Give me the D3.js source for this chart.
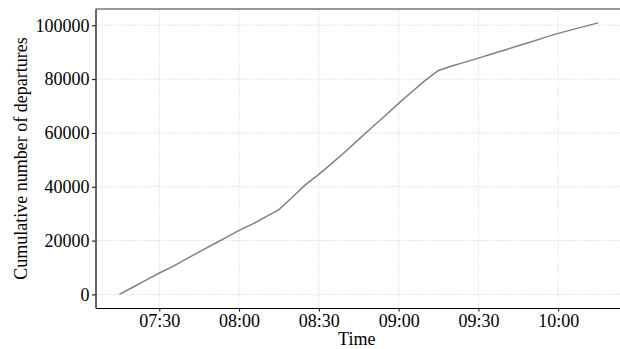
<!DOCTYPE html>
<html><head><meta charset="utf-8">
<script src="https://cdn.jsdelivr.net/npm/d3@7"></script>
<style>
body{margin:0;background:#fff;}
svg text{font-family:'Liberation Serif','Times New Roman',Times,'DejaVu Serif',serif !important;}
</style></head>
<body><svg id="c" width="620" height="349"></svg>
<script>
const times = ["07:15","07:20","07:25","07:30","07:35","07:40","07:45","07:50","07:55","08:00",
  "08:05","08:10","08:15","08:20","08:25","08:30","08:35","08:40","08:45","08:50","08:55","09:00",
  "09:05","09:10","09:15","09:20","09:25","09:30","09:35","09:40","09:45","09:50","09:55","10:00",
  "10:05","10:10","10:15"];
const departures = [0,2650,5300,7950,10350,13100,15800,18450,21100,23800,
  26100,28800,31500,36100,40800,44600,48800,53100,57600,62100,66500,71000,
  75300,79500,83200,84900,86300,87800,89300,90800,92400,93900,95500,97000,
  98300,99600,100900];
const xTickLabels = ["07:30","08:00","08:30","09:00","09:30","10:00"];
const yTickValues = [0,20000,40000,60000,80000,100000];

const parse = s => { const [h,m]=s.split(":").map(Number); return new Date(Date.UTC(2020,0,1,h,m)); };
const data = times.map((t,i)=>({t:parse(t), v:departures[i]}));

const svg = d3.select("#c");
const L=95.5, R=622, T=9, B=308;
const x = d3.scaleUtc().domain([parse("07:06"), parse("10:24")]).range([L,R]);
const y = d3.scaleLinear().domain([-5050,106050]).range([B,T]);
const FONT = "'Liberation Serif','Times New Roman',Times,serif";

const g = svg.append("g");
// grid
g.selectAll(".gx").data(xTickLabels).enter().append("line")
  .attr("x1",d=>x(parse(d))).attr("x2",d=>x(parse(d))).attr("y1",T).attr("y2",B)
  .attr("stroke","#cfcfcf").attr("stroke-width",0.8).attr("stroke-dasharray","1,1.2");
g.selectAll(".gy").data(yTickValues).enter().append("line")
  .attr("x1",L).attr("x2",R).attr("y1",d=>y(d)).attr("y2",d=>y(d))
  .attr("stroke","#cfcfcf").attr("stroke-width",0.8).attr("stroke-dasharray","1,1.2");

// line
const line = d3.line().x(d=>x(d.t)).y(d=>y(d.v));
g.append("path").datum(data).attr("d",line).attr("fill","none")
  .attr("stroke","#808080").attr("stroke-width",1.5);

// axes
const xAxis = d3.axisBottom(x).tickValues(xTickLabels.map(parse)).tickFormat(d3.utcFormat("%H:%M")).tickSize(3.5).tickSizeOuter(0);
const yAxis = d3.axisLeft(y).tickValues(yTickValues).tickFormat(d3.format("d")).tickSize(3.5).tickSizeOuter(0);
const gx = svg.append("g").attr("transform",`translate(0,${B})`).call(xAxis);
const gy = svg.append("g").attr("transform",`translate(${L},0)`).call(yAxis);
[gx,gy].forEach(a=>{
  a.attr("font-family",FONT).attr("font-size",18);
  a.select(".domain").attr("stroke","#000").attr("stroke-width",1.2);
  a.selectAll(".tick line").attr("stroke","#000").attr("stroke-width",1);
  a.selectAll(".tick text").attr("fill","#000").attr("font-family",FONT).attr("font-size",18);
});
gx.selectAll(".tick text").attr("dy","0").attr("y",18.5);
gy.selectAll(".tick text").attr("x",-6);
// top spine
svg.append("line").attr("x1",L).attr("x2",R).attr("y1",T).attr("y2",T).attr("stroke","#333").attr("stroke-width",1.2);

svg.append("text").attr("x",(L+R)/2-2).attr("y",344.5).attr("text-anchor","middle")
  .attr("font-family",FONT).attr("font-size",18).text("Time");
svg.append("text").attr("transform",`translate(27,${(T+B)/2}) rotate(-90)`).attr("text-anchor","middle")
  .attr("font-family",FONT).attr("font-size",18).text("Cumulative number of departures");
</script></body></html>
